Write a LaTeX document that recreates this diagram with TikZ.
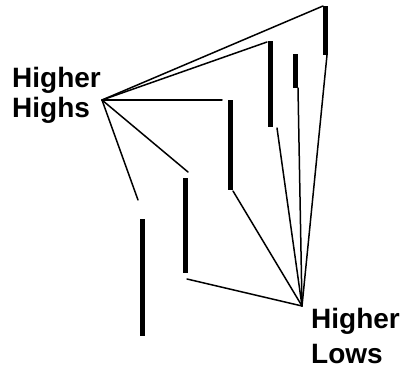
\documentclass[tikz,border=0pt]{standalone}
\usepackage{fontspec}
\newfontfamily\chartfont{Liberation Sans}
\tikzset{
	bar/.style={line width=5pt},
	link/.style={line width=1.5pt, line cap=round},
	tag/.style={font=\chartfont\bfseries\fontsize{28}{#1}\selectfont, align=left, inner sep=0pt, anchor=north west}
}
\begin{document}
\begin{tikzpicture}[x=1pt,y=-1pt]
		\useasboundingbox (0,0) rectangle (404,370);
		% bars: number/x/top/bottom
		\foreach \n/\x/\t/\b in {1/142/219/336,2/185/178/273,3/230/100/190,4/270/41/127,5/295/54/88,6/325/6/55}
			\draw[bar] (\x,\t) coordinate (t\n) -- (\x,\b) coordinate (b\n);
		\node[tag=30] (highs) at (12,67) {Higher\\Highs};
		\node[tag=35] (lows) at (311,308) {Higher\\Lows};
		\coordinate (hh) at (102,100);
		\coordinate (hl) at (302,306);
		\coordinate (u1) at (138,200);
		\coordinate (u2) at (188,172);
		\coordinate (u3) at (222,100);
		\coordinate (u4) at (267,42);
		\coordinate (u6) at (323,6);
		\coordinate (l2) at (187,279);
		\coordinate (l3) at (233,191);
		\coordinate (l4) at (277,128);
		\coordinate (l5) at (298,88);
		\coordinate (l6) at (327,55);
		\foreach \p in {u1,u2,u3,u4,u6} \draw[link] (hh) -- (\p);
		\foreach \p in {l2,l3,l4,l5,l6} \draw[link] (\p) -- (hl);
\end{tikzpicture}
\end{document}
